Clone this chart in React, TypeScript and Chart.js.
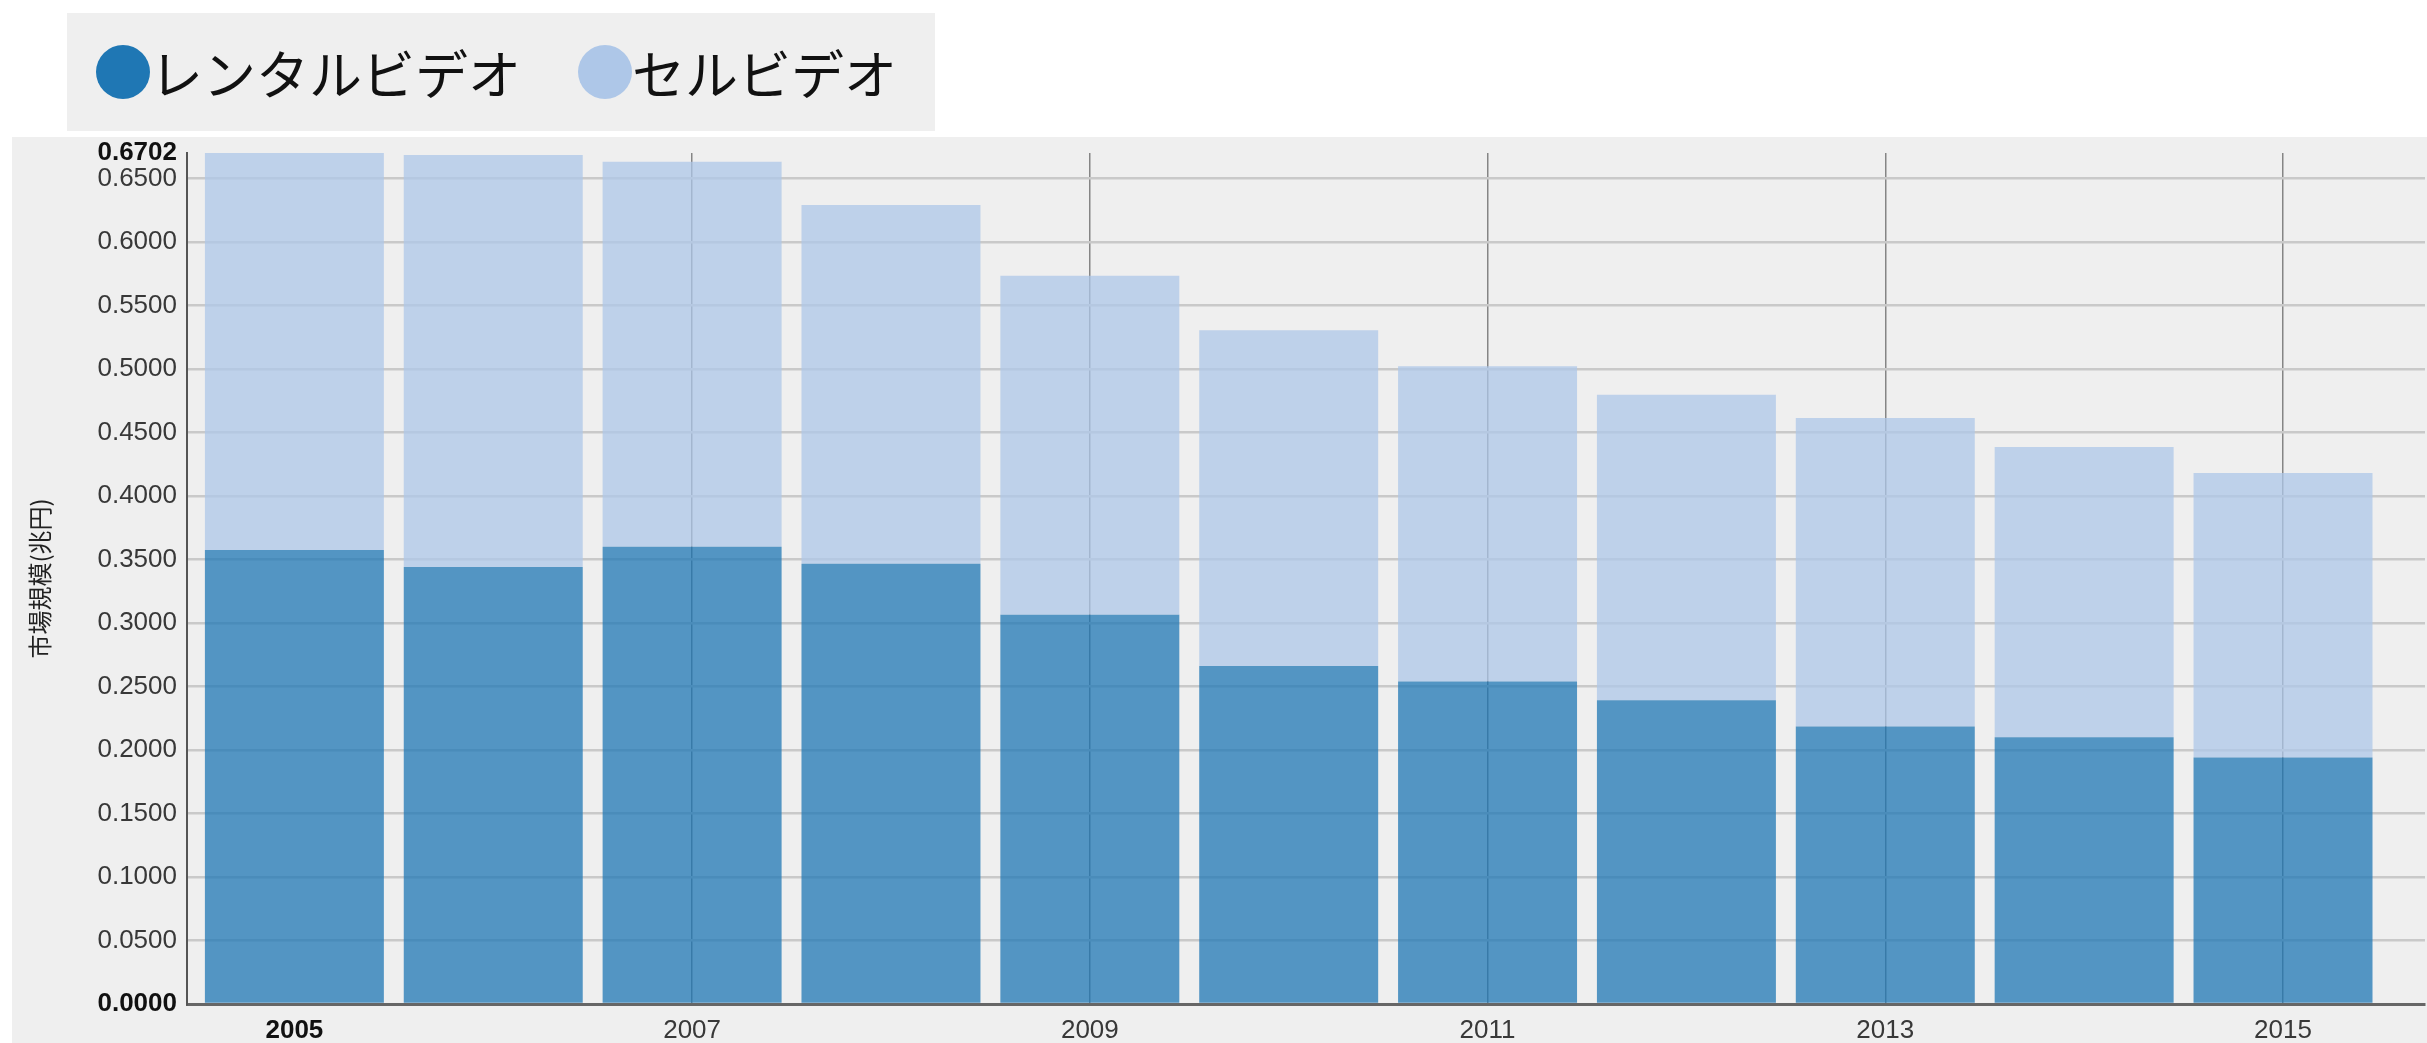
import React, { useEffect, useRef } from 'react';
import { Chart, registerables } from 'chart.js';

Chart.register(...registerables);

// ---- data ----
const years = [2005, 2006, 2007, 2008, 2009, 2010, 2011, 2012, 2013, 2014, 2015];
const rentalVideo = [0.3576, 0.3442, 0.3601, 0.3467, 0.3065, 0.2662, 0.254, 0.2393, 0.2186, 0.21, 0.1942];
const sellVideo = [0.3126, 0.3244, 0.3032, 0.2825, 0.2671, 0.2644, 0.2482, 0.2406, 0.2429, 0.2286, 0.2239];
const seriesNames = ['レンタルビデオ', 'セルビデオ'];
const xTickYears = [2005, 2007, 2009, 2011, 2013, 2015];
const yTickValues = [0, 0.05, 0.1, 0.15, 0.2, 0.25, 0.3, 0.35, 0.4, 0.45, 0.5, 0.55, 0.6, 0.65, 0.6702];
const yAxisTitle = '市場規模(兆円)';

const legendColors = ['#1f77b4', '#aec7e8'];
const barColors = ['rgba(31,119,180,0.75)', 'rgba(174,199,232,0.75)'];

const Y_MAX = yTickValues[yTickValues.length - 1];
const TRANSPARENT = 'rgba(0,0,0,0)';

export default function App() {
  const canvasRef = useRef<HTMLCanvasElement | null>(null);

  useEffect(() => {
    const canvas = canvasRef.current;
    if (!canvas) return;
    const series = [rentalVideo, sellVideo];
    const chart = new Chart(canvas, {
      type: 'bar',
      data: {
        datasets: series.map((vals, si) => ({
          label: seriesNames[si],
          data: years.map((yr, i) => ({ x: yr, y: vals[i] })),
          backgroundColor: barColors[si],
          borderWidth: 0,
          barPercentage: 0.9,
          categoryPercentage: 1,
        })),
      },
      options: {
        animation: false,
        responsive: false,
        maintainAspectRatio: false,
        layout: { padding: { left: 0, top: 16, right: 2, bottom: 0 } },
        plugins: {
          legend: { display: false },
          tooltip: { enabled: false },
        },
        scales: {
          x: {
            type: 'linear',
            stacked: true,
            min: 2004.46,
            max: 2015.714,
            offset: false,
            afterBuildTicks: (s: any) => {
              s.ticks = xTickYears.map((v) => ({ value: v }));
            },
            afterFit: (s: any) => {
              s.height = 39;
              s.paddingLeft = 0;
              s.paddingRight = 0;
            },
            grid: {
              offset: false,
              drawTicks: false,
              lineWidth: 1.5,
              color: (ctx: any) =>
                ctx.tick && ctx.tick.value === xTickYears[0] ? TRANSPARENT : '#858585',
            },
            border: { display: true, color: '#666666', width: 3 },
            ticks: {
              autoSkip: false,
              maxRotation: 0,
              padding: 11,
              callback: (v: any) => String(v),
              font: (ctx: any) => ({
                family: '"Liberation Sans", Arial, sans-serif',
                size: 26,
                weight: ctx.tick && ctx.tick.value === xTickYears[0] ? 'bold' : 'normal',
              }),
              color: (ctx: any) =>
                ctx.tick && ctx.tick.value === xTickYears[0] ? '#111111' : '#383838',
            },
          },
          y: {
            stacked: true,
            min: 0,
            max: Y_MAX,
            afterBuildTicks: (s: any) => {
              s.ticks = yTickValues.map((v) => ({ value: v }));
            },
            afterFit: (s: any) => {
              s.width = 175;
              s.paddingTop = 0;
              s.paddingBottom = 0;
            },
            grid: {
              drawTicks: false,
              lineWidth: 2.5,
              color: (ctx: any) =>
                ctx.tick && (ctx.tick.value === 0 || ctx.tick.value === Y_MAX) ? TRANSPARENT : '#c9c9c9',
            },
            border: { display: true, color: '#555555', width: 2 },
            ticks: {
              autoSkip: false,
              padding: 10,
              callback: (v: any) => Number(v).toFixed(4),
              font: (ctx: any) => ({
                family: '"Liberation Sans", Arial, sans-serif',
                size: 26,
                weight: ctx.tick && (ctx.tick.value === 0 || ctx.tick.value === Y_MAX) ? 'bold' : 'normal',
              }),
              color: (ctx: any) =>
                ctx.tick && (ctx.tick.value === 0 || ctx.tick.value === Y_MAX) ? '#111111' : '#383838',
            },
            title: {
              display: true,
              text: yAxisTitle,
              color: '#222222',
              font: { family: '"Noto Sans CJK JP", sans-serif', size: 24 },
              padding: { top: 13, bottom: 0 },
            },
          },
        },
      },
    } as any);
    return () => chart.destroy();
  }, []);

  return (
    <div
      style={{
        position: 'fixed',
        left: 0,
        top: 0,
        width: 2427,
        height: 1043,
        background: '#ffffff',
        overflow: 'hidden',
      }}
    >
      <div
        style={{
          position: 'absolute',
          left: 67,
          top: 13,
          width: 868,
          height: 118,
          background: '#efefef',
          display: 'flex',
          alignItems: 'center',
          paddingLeft: 29,
          boxSizing: 'border-box',
        }}
      >
        {seriesNames.map((name, i) => (
          <div key={name} style={{ display: 'flex', alignItems: 'center', marginRight: 57 }}>
            <div
              style={{
                width: 54,
                height: 54,
                borderRadius: '50%',
                background: legendColors[i],
                marginRight: 0,
              }}
            />
            <span
              style={{
                fontFamily: '"Noto Sans CJK JP", sans-serif',
                fontSize: 53,
                lineHeight: 1,
                color: '#111111',
                whiteSpace: 'nowrap',
              }}
            >
              {name}
            </span>
          </div>
        ))}
      </div>
      <div
        style={{
          position: 'absolute',
          left: 12,
          top: 137,
          width: 2415,
          height: 906,
          background: '#efefef',
        }}
      >
        <canvas ref={canvasRef} width={2415} height={906} style={{ display: 'block', width: 2415, height: 906 }} />
      </div>
    </div>
  );
}
